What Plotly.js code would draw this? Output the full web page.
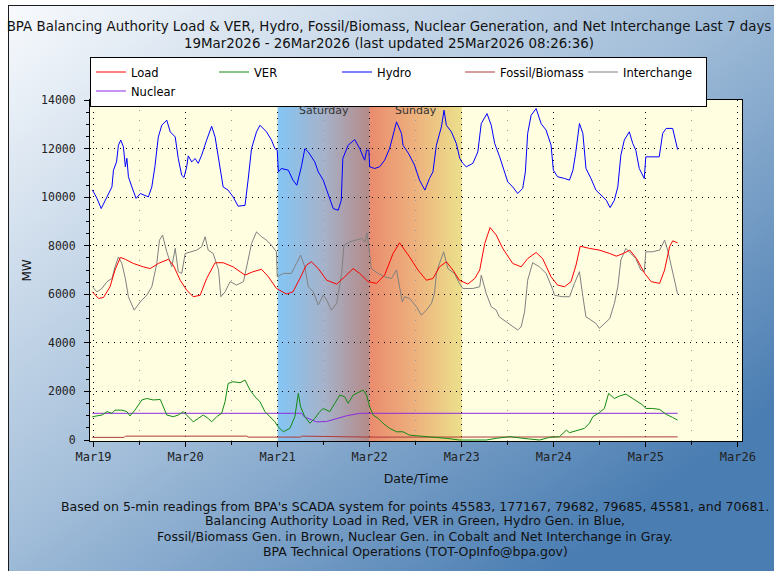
<!DOCTYPE html>
<html>
<head>
<meta charset="utf-8">
<script src="https://cdn.plot.ly/plotly-3.0.1.min.js"></script>
<style>
  html, body { margin: 0; padding: 0; background: #ffffff; }
  #wrap { position: relative; width: 774px; height: 571px; overflow: hidden; background: #ffffff; }
  #bgpanel { position: absolute; left: 8px; top: 5px; width: 800px; height: 600px;
    border-left: 1px solid #1a1a1a; border-top: 1px solid #1a1a1a;
    background: linear-gradient(to bottom right, #f8fafd 0px, #a4bfda 420px, #4a7db2 780px); }
  #chart { position: absolute; left: 0; top: 0; width: 774px; height: 571px; }
</style>
</head>
<body>
<div id="wrap">
  <div id="bgpanel"></div>
  <div id="chart"></div>
</div>
<script>
// ---------------- DATA (hours since 19 Mar 2026 00:00, MW) ----------------
const hydroHours = [-0.3,0.9,2.0,3.5,4.8,5.2,6.0,6.5,7.1,7.8,8.3,8.7,9.1,10.0,11.1,12.2,13.5,14.3,15.2,16.0,16.9,17.8,19.1,20.0,21.3,22.1,23.0,23.6,24.3,24.7,25.6,26.5,27.3,28.2,29.5,30.8,31.7,33.0,33.8,35.1,36.4,37.7,39.5,40.3,41.2,42.5,43.4,45.1,46.4,47.3,47.9,48.2,49.0,50.8,52.0,53.0,54.2,55.1,56.0,57.7,58.6,59.9,61.2,62.5,63.8,64.6,65.0,66.4,68.1,69.4,70.7,71.2,71.8,72.0,73.3,74.6,75.9,77.2,79.0,80.3,80.7,82.2,83.7,85.0,86.4,87.6,88.5,89.4,90.7,91.4,92.0,93.3,94.6,95.5,96.3,97.2,98.9,100.2,101.1,102.6,103.7,104.6,105.9,107.2,108.0,109.3,110.6,111.9,112.6,113.2,114.1,115.4,116.7,118.0,119.3,119.9,121.0,122.8,124.1,125.0,125.7,126.7,127.6,128.4,129.7,131.0,132.4,133.7,134.7,135.8,136.7,137.5,138.4,139.7,140.6,141.4,142.3,143.6,144.0,145.3,147.5,148.4,149.3,151.0,151.7,152.3];
const hydroMW = [10300,9950,9530,10010,10420,11110,11450,12140,12350,12070,11250,11600,10840,10420,9950,10150,10080,10010,10420,11250,12480,12960,13170,12690,12480,11590,10900,10810,11250,11700,11450,11590,11390,11730,12350,12920,12480,11250,10420,10290,10010,9630,9660,10700,12000,12690,12960,12690,12350,12000,11930,11040,11180,11110,10700,10490,11250,12000,11860,11450,11040,10700,10150,9530,9460,9870,11590,12140,12370,12000,11520,11930,11930,11250,11180,11250,11520,12000,13100,12620,12140,11780,11320,10700,10290,10770,11040,12140,12890,13580,12960,12690,12210,11590,11390,11250,11390,11860,13030,13440,12960,12210,11660,11040,10630,10420,10150,10360,11040,12620,13370,13650,13030,12760,12140,11110,10840,10770,10700,11110,11800,13030,12620,11180,10770,10290,10080,9870,9570,9870,10420,11730,12350,12690,12210,11930,11180,10770,11660,11660,11660,12620,12830,12830,12280,11960];

const loadHours = [-0.3,1.3,2.6,4.3,5.6,7.0,8.3,10.4,13.0,14.8,16.9,19.5,20.8,22.6,24.3,26.0,27.8,29.5,31.7,33.8,36.4,39.5,41.6,43.8,45.6,47.7,50.3,52.0,53.8,55.5,56.8,58.6,60.8,63.4,65.5,67.7,69.4,71.6,73.8,75.9,78.1,79.8,82.4,84.6,86.8,88.5,90.2,92.0,93.7,95.4,97.6,99.4,100.7,102.0,103.4,105.0,106.7,109.3,111.5,113.2,115.4,117.1,119.3,121.0,122.8,124.5,125.8,126.9,129.3,131.9,134.6,136.3,138.1,139.8,141.6,143.7,145.4,147.6,148.9,150.2,151.0,152.3];
const loadMW = [6100,5830,5870,6310,7000,7520,7440,7270,7130,7060,7270,7440,7200,6580,6170,5900,5960,6650,7300,7300,7130,6790,6930,7030,6720,6240,6010,6100,6650,7200,7340,7060,6580,6420,6720,7060,6860,6520,6450,6790,7680,8120,7540,7000,6580,6650,7130,7340,7000,6580,6420,6650,7000,8090,8750,8440,7890,7270,7130,7470,7720,7470,6720,6380,6310,6520,7200,7980,7890,7820,7680,7570,7680,7820,7470,6860,6520,6450,7000,7960,8200,8120];

const interHours = [-0.3,0.9,2.2,3.5,4.8,5.6,6.5,7.4,8.3,9.1,10.6,12.2,13.9,15.2,16.5,17.2,18.0,19.1,20.4,21.3,22.1,23.0,23.9,25.2,26.9,28.2,29.1,29.9,31.2,32.6,33.2,34.3,35.6,37.3,39.1,40.3,41.2,42.5,43.8,45.1,46.4,47.7,47.9,49.5,51.6,52.9,54.0,55.1,56.0,57.3,58.6,59.9,60.8,62.0,63.4,64.7,65.3,66.8,68.6,69.9,70.8,71.3,72.0,72.4,74.2,75.9,77.7,79.0,79.8,80.5,81.1,82.4,84.2,85.5,86.8,88.1,88.9,89.4,90.2,91.3,92.4,94.1,95.4,96.3,98.9,100.7,101.1,102.4,103.7,105.0,105.8,107.6,109.3,110.6,111.5,112.4,113.2,114.5,116.3,118.0,119.8,120.2,122.3,124.1,125.4,126.7,127.6,128.4,129.7,131.0,131.9,133.2,134.6,135.8,136.7,137.5,138.8,140.1,141.4,142.7,143.6,144.0,145.7,147.6,148.9,149.7,150.6,151.5,152.3];
const interMW = [6310,6100,6240,6520,6650,7130,7540,7270,6650,5900,5350,5690,5970,6310,7270,8230,8440,7750,7130,7890,6930,6860,7680,7750,7820,7960,8370,7820,7680,7000,5900,6100,6520,6380,6520,7410,8090,8570,8370,8230,8020,7750,6720,6860,6860,7270,7610,7130,6310,6100,5560,5970,5760,5350,5620,6860,8020,8160,8230,8300,8160,8530,7680,7060,6860,6720,6650,7000,6310,5690,5900,5830,5490,5140,5350,5620,6030,6860,7270,7750,7060,6860,6450,6240,6240,6310,6790,6030,5490,5350,5070,4870,4660,4530,4660,5280,6580,7300,7130,6860,6170,5960,5900,5900,6450,6930,5900,5070,4940,4800,4600,4800,5000,5620,6310,7410,7890,7680,7470,7000,6930,7750,7750,7820,8230,7820,7200,6650,6010];

const verHours = [-0.3,0.9,2.2,3.5,4.8,5.6,7.4,8.7,9.5,10.8,12.6,13.9,15.6,17.4,18.2,19.1,20.8,22.1,23.4,24.7,26.0,27.3,28.6,29.9,30.8,32.1,33.4,34.3,35.1,36.4,38.2,39.5,40.8,42.1,43.4,44.7,46.0,47.3,48.1,49.5,51.2,52.5,53.4,54.0,55.1,56.4,57.7,59.0,59.9,61.6,62.9,64.2,65.5,66.4,67.7,69.4,70.3,71.2,72.0,72.9,74.2,75.5,77.2,79.0,80.7,82.4,85.0,88.5,92.0,95.4,98.9,102.4,105.0,108.5,112.0,116.3,118.9,121.5,123.3,124.1,125.8,128.0,129.3,130.2,131.9,133.2,134.3,135.8,137.1,138.8,140.6,141.9,143.2,144.0,145.7,147.6,149.3,151.0,152.3];
const verMW = [960,990,1030,1170,1100,1230,1230,1170,990,1230,1650,1710,1650,1670,1370,1030,960,1030,1170,960,750,890,1030,890,750,960,1100,1580,2330,2400,2360,2470,2060,1780,1580,1170,960,750,550,340,480,960,1920,1370,960,690,890,1170,1300,1170,1510,1850,1780,1510,1850,1990,2060,1850,1370,1030,890,690,480,340,340,200,170,140,70,0,0,0,70,140,70,0,110,140,410,300,380,480,690,960,1130,1300,1920,1710,1810,1890,1710,1580,1440,1300,1300,1260,1060,930,820];

const nuclearHours = [-0.3,54.3,55.0,56.0,58.1,60.7,63.4,66.0,69.4,152.3];
const nuclearMW = [1100,1100,950,880,750,760,890,1000,1100,1100];

const fossilHours = [-0.3,8.0,8.3,40.0,40.3,54.0,54.3,72.0,72.3,152.3];
const fossilMW = [110,110,160,160,120,120,160,150,120,130];

const seriesNames = ['Load','VER','Hydro','Fossil/Biomass','Interchange','Nuclear'];
const weekendLabels = ['Saturday','Sunday'];
const weekendStarts = ['2026-03-21','2026-03-22'];
const titleLines = ['BPA Balancing Authority Load & VER, Hydro, Fossil/Biomass, Nuclear Generation, and Net Interchange Last 7 days',
                    '19Mar2026 - 26Mar2026 (last updated 25Mar2026 08:26:36)'];
const footerLines = ["Based on 5-min readings from BPA's SCADA system for points 45583, 177167, 79682, 79685, 45581, and 70681.",
                     'Balancing Authority Load in Red, VER in Green, Hydro Gen. in Blue,',
                     'Fossil/Biomass Gen. in Brown, Nuclear Gen. in Cobalt and Net Interchange in Gray.',
                     'BPA Technical Operations (TOT-OpInfo@bpa.gov)'];

// ---------------- helpers ----------------
const T0 = Date.UTC(2026, 2, 19);
function msToStr(ms) { return new Date(ms).toISOString().slice(0, 19).replace('T', ' '); }
function hToDate(h) { return msToStr(T0 + h * 3600000); }
function dayMs(d) { return Date.UTC(+d.slice(0,4), +d.slice(5,7) - 1, +d.slice(8,10)); }
function hex(c) { return [parseInt(c.slice(1,3),16), parseInt(c.slice(3,5),16), parseInt(c.slice(5,7),16)]; }
function mix(stops, f) {
  for (let i = 0; i < stops.length - 1; i++) {
    const [p0, c0] = stops[i], [p1, c1] = stops[i+1];
    if (f <= p1) {
      const t = (f - p0) / (p1 - p0);
      const a = hex(c0), b = hex(c1);
      return 'rgb(' + a.map((v, k) => Math.round(v + (b[k] - v) * t)).join(',') + ')';
    }
  }
  return stops[stops.length-1][1];
}

const FONT = 'DejaVu Sans, Verdana, sans-serif';
const MONO = 'DejaVu Sans Mono, monospace';

const gradStops = [
  [[0, '#84c6f5'], [0.5, '#a6b2ca'], [1, '#b58a88']],
  [[0, '#ea8c6e'], [0.5, '#edb27e'], [1, '#ece08c']]
];

const shapes = [];
const NSTRIP = 80;
weekendStarts.forEach((d, wi) => {
  const base = dayMs(d);
  const step = 86400000 / NSTRIP;
  for (let i = 0; i < NSTRIP; i++) {
    const f = (i + 0.5) / NSTRIP;
    shapes.push({ type: 'rect', layer: 'below', xref: 'x', yref: 'paper',
      x0: msToStr(base + i * step), x1: msToStr(base + Math.min(i + 2, NSTRIP) * step),
      y0: 0, y1: 1, line: { width: 0 }, fillcolor: mix(gradStops[wi], f) });
  }
});

function mk(name, hours, vals, color, rank) {
  return { type: 'scatter', mode: 'lines', name: name, legendrank: rank,
    x: hours.map(hToDate), y: vals, line: { color: color, width: 1 } };
}

const traces = [
  mk(seriesNames[4], interHours, interMW, '#808080', 5),
  mk(seriesNames[5], nuclearHours, nuclearMW, '#8a2be2', 6),
  mk(seriesNames[3], fossilHours, fossilMW, '#b03a3a', 4),
  mk(seriesNames[1], verHours, verMW, '#138a13', 2),
  mk(seriesNames[2], hydroHours, hydroMW, '#0000ff', 3),
  mk(seriesNames[0], loadHours, loadMW, '#ff0000', 1)
];

const annotations = [];
weekendLabels.forEach((lab, i) => {
  annotations.push({ text: lab, xref: 'x', yref: 'paper', x: msToStr(dayMs(weekendStarts[i]) + 43200000),
    y: 0.97, xanchor: 'center', yanchor: 'middle', showarrow: false,
    font: { family: 'DejaVu Sans, sans-serif', size: 11, color: '#333' } });
});
const footY = [-0.1935, -0.2346, -0.2786, -0.3226];
footerLines.forEach((t, i) => {
  annotations.push({ text: t, xref: 'paper', yref: 'paper', x: 0.4985, y: footY[i],
    xanchor: 'center', yanchor: 'middle', showarrow: false, font: { family: FONT, size: 12.5, color: '#111' } });
});

const layout = {
  width: 774, height: 571, margin: { l: 90, r: 32, t: 100, b: 130 },
  paper_bgcolor: 'rgba(0,0,0,0)', plot_bgcolor: '#fffee1', showlegend: true,
  title: { text: titleLines.join('<br>'), font: { family: FONT, size: 13.4, color: '#111' },
    xref: 'container', yref: 'container', x: 0.5026, xanchor: 'center', y: 1 - 31/571, yanchor: 'top' },
  legend: { orientation: 'h', x: 0, xanchor: 'left', y: (441 - 56.5) / 341, yanchor: 'top',
    bgcolor: '#ffffff', bordercolor: '#000000', borderwidth: 1,
    entrywidth: 78, entrywidthmode: 'pixels', itemwidth: 30,
    font: { family: FONT, size: 11.5, color: '#000' } },
  xaxis: { type: 'date', range: ['2026-03-18 23:05', '2026-03-26 01:05'],
    tick0: '2026-03-19', dtick: 86400000, tickformat: '%b%d',
    ticks: 'outside', ticklen: 5, tickcolor: '#000',
    showline: true, linecolor: '#000', linewidth: 1, mirror: true,
    showgrid: true, gridcolor: '#000', gridwidth: 1, griddash: '1px,5px', zeroline: false,
    minor: { dtick: 43200000, ticks: 'outside', ticklen: 3, tickcolor: '#000',
      showgrid: true, gridcolor: '#999', gridwidth: 1, griddash: '1px,9px' },
    tickfont: { family: MONO, size: 12, color: '#222' },
    title: { text: 'Date/Time', font: { family: FONT, size: 12.5, color: '#111' }, standoff: 10 } },
  yaxis: { range: [-40, 14000], tick0: 0, dtick: 2000, tickformat: 'd',
    ticks: 'outside', ticklen: 5, tickcolor: '#000',
    showline: true, linecolor: '#000', linewidth: 1, mirror: true,
    showgrid: true, gridcolor: '#000', gridwidth: 1, griddash: '1px,5px', zeroline: false,
    minor: { dtick: 500, ticks: 'outside', ticklen: 3, tickcolor: '#000', showgrid: false },
    tickfont: { family: MONO, size: 11.5, color: '#222' }, ticklabelstandoff: 6,
    title: { text: 'MW', font: { family: FONT, size: 12, color: '#111' }, standoff: 6 } },
  shapes: shapes, annotations: annotations
};

Plotly.newPlot('chart', traces, layout, { displayModeBar: false, staticPlot: true });
</script>
</body>
</html>
